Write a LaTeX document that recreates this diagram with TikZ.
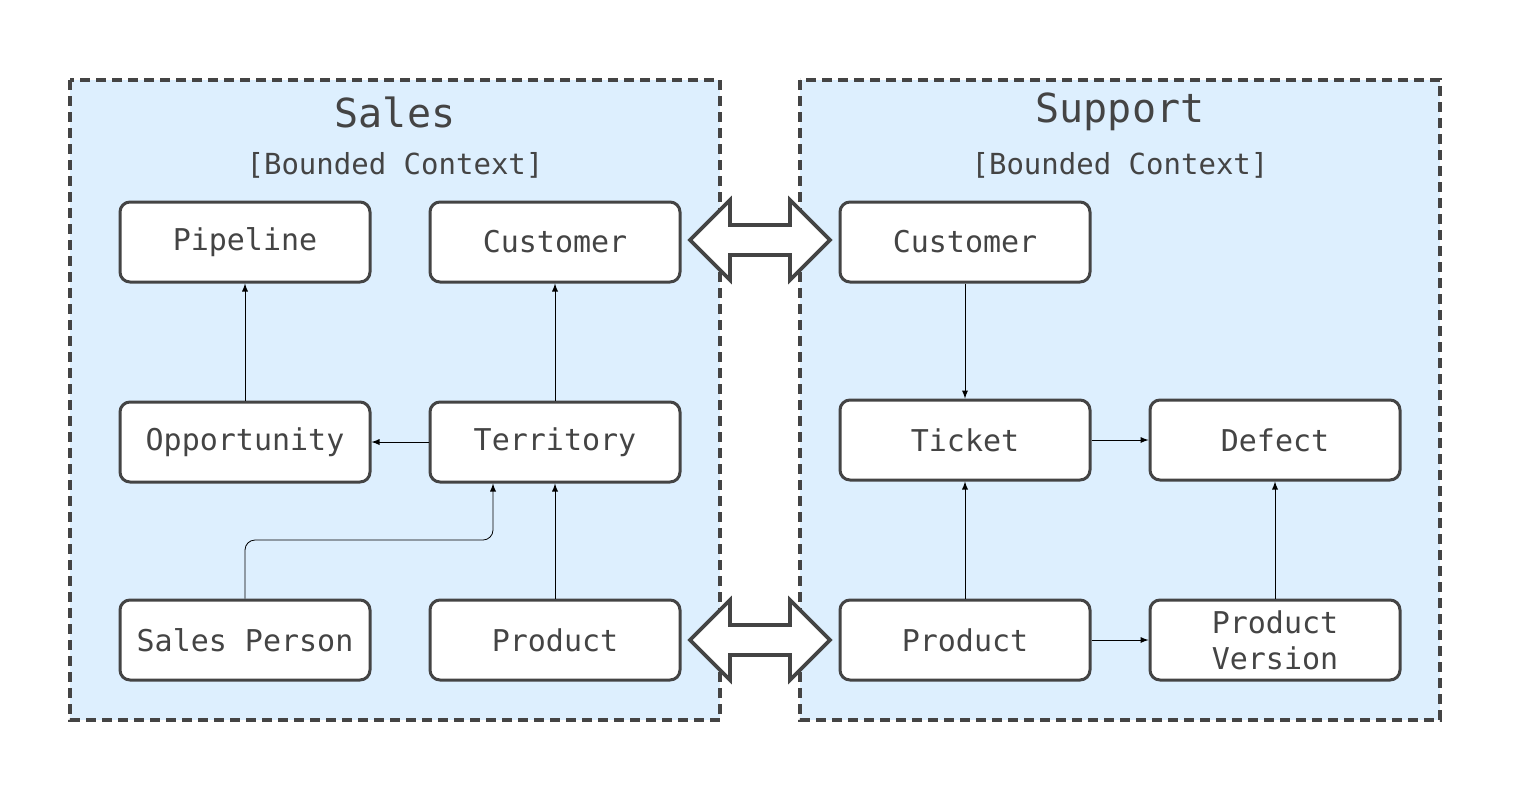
\documentclass[tikz,border=0pt]{standalone}
\usepackage{fontspec}
\setmonofont{DejaVu Sans Mono}
\usetikzlibrary{positioning}
\definecolor{ctxfill}{HTML}{DDEFFE}
\definecolor{ink}{HTML}{444444}
\begin{document}
\begin{tikzpicture}[
    x=0.5pt, y=-0.5pt,
    context/.style={draw=ink, fill=ctxfill, line width=1.8pt, dash pattern=on 5pt off 3pt},  % bounded context
    entity/.style={draw=ink, fill=white, line width=1.5pt, rounded corners=5pt,
        minimum width=125pt, minimum height=40pt, align=center,
        font=\ttfamily\fontsize{15}{17}\selectfont, text=ink},                              % entity boxes
    title/.style={font=\ttfamily\fontsize{20}{22}\selectfont, text=ink},
    subtitle/.style={font=\ttfamily\fontsize{14.5}{16}\selectfont, text=ink},
    link/.style={-latex, thin, black},
    bigarrow/.style={draw=ink, fill=white, line width=1.8pt, line join=miter}
    ]
    \useasboundingbox (0,0) rectangle (1520,800);

    % Bounded contexts
    \draw[context] (70,80) rectangle (720,720);
    \draw[context] (800,80) rectangle (1440,720);
    \node[title] (salesT) at (395,112) {Sales};
    \node[subtitle] (salesS) at (395,165) {[Bounded Context]};
    \node[title] (suppT) at (1120,112) {Support};
    \node[subtitle] (suppS) at (1120,165) {[Bounded Context]};

    % Sales entities
    \node[entity] (pipeline) at (245,242) {Pipeline};
    \node[entity] (scust) at (555,242) {Customer};
    \node[entity] (opp) at (245,442) {Opportunity};
    \node[entity] (terr) at (555,442) {Territory};
    \node[entity] (person) at (245,640) {Sales Person};
    \node[entity] (sprod) at (555,640) {Product};

    % Support entities
    \node[entity] (ucust) at (965,242) {Customer};
    \node[entity] (ticket) at (965,440) {Ticket};
    \node[entity] (defect) at (1275,440) {Defect};
    \node[entity] (uprod) at (965,640) {Product};
    \node[entity] (version) at (1275,640) {Product\\[1pt]Version};

    % Relations
    \draw[link] (opp) -- (pipeline);
    \draw[link] (terr) -- (scust);
    \draw[link] (terr) -- (opp);
    \draw[link] (sprod) -- (terr);
    \draw[link, rounded corners=5pt] (person.north) |- (493,540) -- (terr.south west -| 493,0);
    \draw[link] (ucust) -- (ticket);
    \draw[link] (ticket) -- (defect);
    \draw[link] (uprod) -- (ticket);
    \draw[link] (uprod) -- (version);
    \draw[link] (version) -- (defect);

    % Context mappings
    \foreach \yy in {240,640} {
        \draw[bigarrow] (690,\yy) -- (730,\yy-40) -- (730,\yy-15) -- (790,\yy-15) -- (790,\yy-40)
            -- (830,\yy) -- (790,\yy+40) -- (790,\yy+15) -- (730,\yy+15) -- (730,\yy+40) -- cycle;
    }
\end{tikzpicture}
\end{document}
